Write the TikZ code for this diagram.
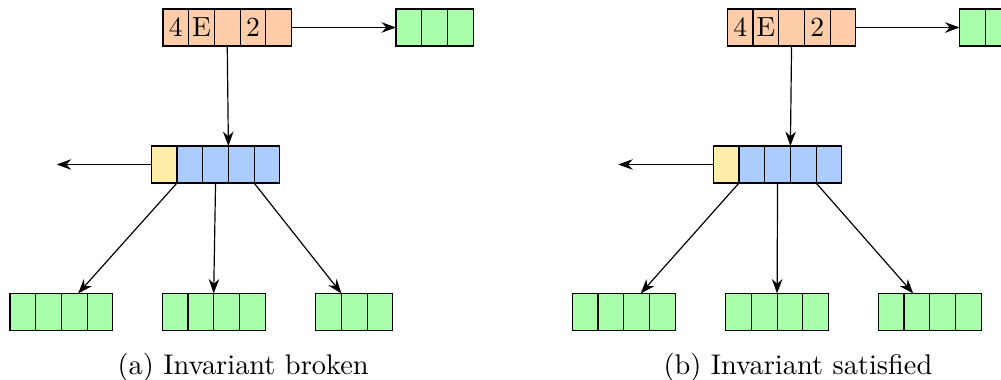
\documentclass[tikz,border=0pt]{standalone}
\usetikzlibrary{arrows.meta,calc}
\definecolor{orangec}{HTML}{FFCCAA}
\definecolor{greenc}{HTML}{AAFFAA}
\definecolor{bluec}{HTML}{AACCFF}
\definecolor{yellowc}{HTML}{FFEEAA}
\begin{document}
\begin{tikzpicture}[x=0.38pt,y=-0.38pt,
  cell/.style={draw=black, line width=0.45pt, minimum width=9.766pt, minimum height=14.06pt, inner sep=0pt, outer sep=0pt, font=\fontsize{10.5}{12}\selectfont},
  ocell/.style={cell, fill=orangec},
  gcell/.style={cell, fill=greenc},
  bcell/.style={cell, fill=bluec},
  ycell/.style={cell, fill=yellowc},
  arr/.style={draw=black, line width=0.45pt, -{Stealth[length=5.5pt,width=4pt,inset=1.8pt]}},
  caption/.style={anchor=base west, inner sep=0pt, font=\fontsize{10.8}{12}\selectfont}]
\useasboundingbox (0,0) rectangle (1001,380);
% ---------- (a) ----------
\foreach \i/\t in {1/4,2/E,3/,4/2,5/} \node[ocell] (ao\i) at ({163+(\i-0.5)*25.7},27.5) {\t};
\foreach \i in {1,2,3} \node[gcell] (ag\i) at ({396+(\i-0.5)*25.7},27.5) {};
\node[ycell] (ay) at ({151.3+0.5*25.7},164.5) {};
\foreach \i in {1,...,4} \node[bcell] (ab\i) at ({177+(\i-0.5)*25.7},164.5) {};
\foreach \i in {1,...,4} \node[gcell] (ac1\i) at ({10+(\i-0.5)*25.7},312) {};
\foreach \i in {1,...,4} \node[gcell] (ac2\i) at ({162.3+(\i-0.5)*25.7},312) {};
\foreach \i in {1,2,3} \node[gcell] (ac3\i) at ({315.7+(\i-0.5)*25.7},312) {};
\coordinate (aleft) at (56.7,164.5);
\draw[arr] (ao5.east) -- (ag1.west);
\draw[arr] (ao3.south) -- (ab2.north east);
\draw[arr] (ay.west) -- (aleft);
\draw[arr] (ay.south east) -- ($(ac13.north west)!0.65!(ac13.north east)$);
\draw[arr] (ab2.south) -- (ac22.north east);
\draw[arr] (ab3.south east) -- (ac31.north east);
\node[caption] (capa) at (117,374) {(a) Invariant broken};
% ---------- (b) ----------
\foreach \i/\t in {1/4,2/E,3/,4/2,5/} \node[ocell] (bo\i) at ({727.3+(\i-0.5)*25.7},27.5) {\t};
\foreach \i in {1,2,3} \node[gcell] (bg\i) at ({959.5+(\i-0.5)*25.7},27.5) {};
\node[ycell] (by) at ({713.3+0.5*25.7},164.5) {};
\foreach \i in {1,...,4} \node[bcell] (bb\i) at ({739+(\i-0.5)*25.7},164.5) {};
\foreach \i in {1,...,4} \node[gcell] (bc1\i) at ({572.3+(\i-0.5)*25.7},312) {};
\foreach \i in {1,...,4} \node[gcell] (bc2\i) at ({725.7+(\i-0.5)*25.7},312) {};
\foreach \i in {1,...,4} \node[gcell] (bc3\i) at ({878.3+(\i-0.5)*25.7},312) {};
\coordinate (bleft) at (618.3,164.5);
\draw[arr] (bo5.east) -- (bg1.west);
\draw[arr] (bo3.south) -- (bb2.north east);
\draw[arr] (by.west) -- (bleft);
\draw[arr] (by.south east) -- ($(bc13.north west)!0.66!(bc13.north east)$);
\draw[arr] (bb2.south) -- (bc22.north east);
\draw[arr] (bb3.south east) -- ($(bc32.north west)!0.36!(bc32.north east)$);
\node[caption] (capb) at (663,374) {(b) Invariant satisfied};
\end{tikzpicture}
\end{document}
